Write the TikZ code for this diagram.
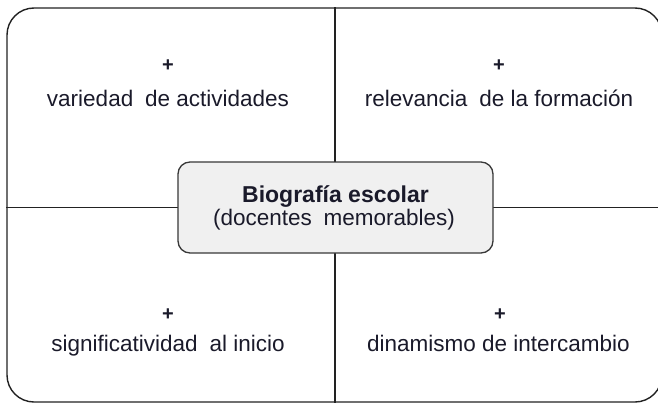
\documentclass[tikz,border=0pt]{standalone}
\usepackage{fontspec}
\setmainfont{Liberation Sans}
\definecolor{edge}{HTML}{222222}
\definecolor{boxfill}{HTML}{F0F0F0}
\definecolor{txt}{HTML}{1A1A2A}
\begin{document}
\begin{tikzpicture}[x=1pt,y=-1pt,
  frame/.style={draw=edge, line width=1.4pt, rounded corners=27pt, minimum width=655pt, minimum height=394pt, inner sep=0pt},
  centerbox/.style={draw=edge!90, fill=boxfill, line width=1.3pt, rounded corners=12pt, minimum width=315pt, minimum height=91pt, inner sep=0pt, align=center},
  divider/.style={draw=edge, line width=1.3pt},
  plussign/.style={font=\fontsize{20}{20}\selectfont\bfseries, text=txt, inner sep=0pt},
  label/.style={font=\fontsize{22.5}{26}\selectfont, text=txt, inner sep=0pt, anchor=base}]
\useasboundingbox (0,0) rectangle (658,404);
\node[frame] (outer) at (334.5,205) {};
\coordinate (cx) at (335,207.5);
\draw[divider] (outer.north -| cx) -- (outer.south -| cx);
\draw[divider] (outer.west |- cx) -- (outer.east |- cx);
\node[centerbox] (center) at (335.5,207.5) {};
\node[inner sep=0pt, anchor=base, font=\fontsize{23}{26}\selectfont\bfseries, text=txt] (title) at (335.5,202) {Biografía escolar};
\node[label] (subtitle) at (334,225) {(docentes\hspace{0.25em} memorables)};
\node[plussign] (p1) at (168,66) {+};
\node[plussign] (p2) at (499,66) {+};
\node[plussign] (p3) at (168,315) {+};
\node[plussign] (p4) at (500,315) {+};
\node[label] (t1) at (168,106) {variedad\hspace{0.25em} de actividades};
\node[label] (t2) at (499,106) {relevancia\hspace{0.25em} de la formación};
\node[label] (t3) at (168,351) {significatividad\hspace{0.25em} al inicio};
\node[label] (t4) at (498.5,351) {dinamismo de intercambio};
\end{tikzpicture}
\end{document}
